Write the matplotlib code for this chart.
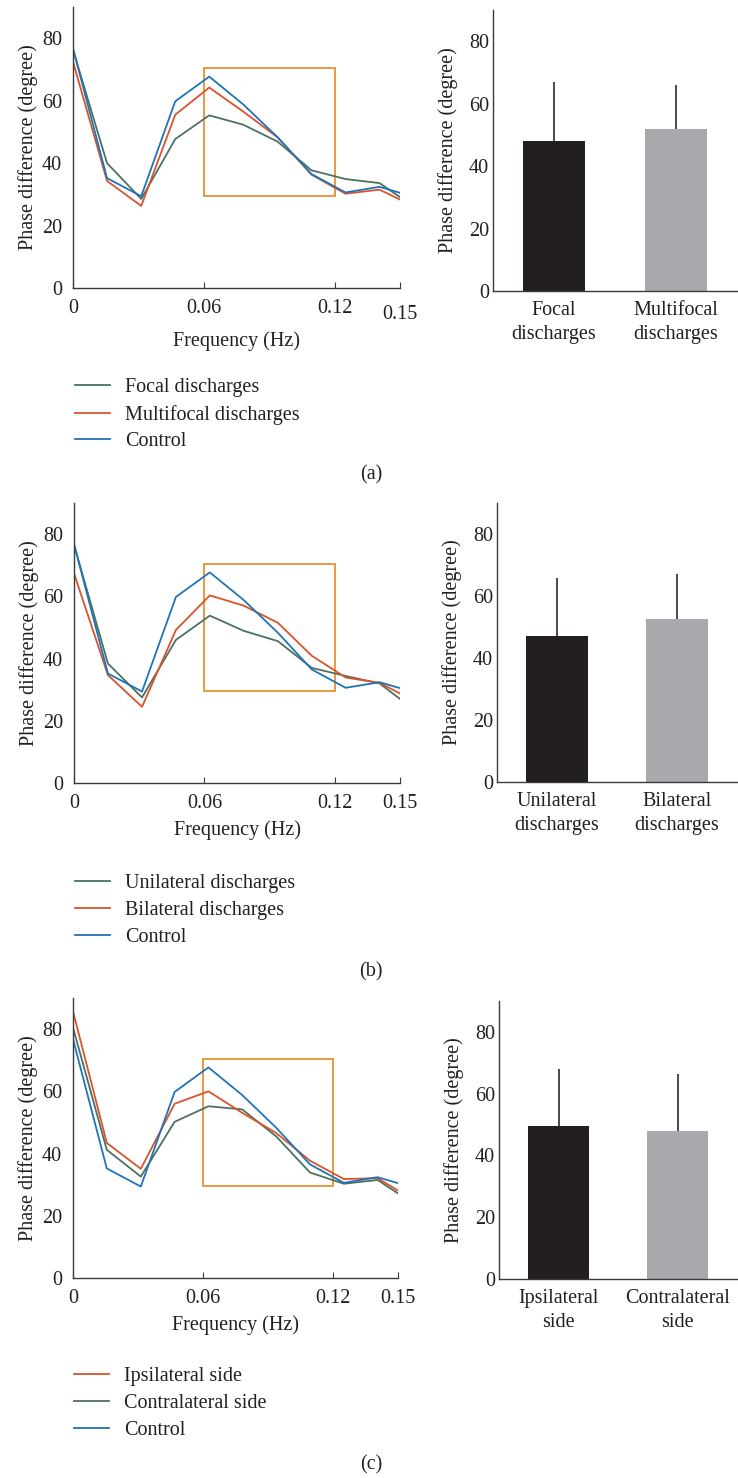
import numpy as np
import matplotlib
matplotlib.use("Agg")
import matplotlib.pyplot as plt
from matplotlib.patches import Rectangle
import matplotlib.transforms as mtransforms

plt.rcParams['font.family'] = ['Liberation Serif', 'DejaVu Serif']
plt.rcParams['font.size'] = 14.5
plt.rcParams['text.color'] = '#231f20'
plt.rcParams['xtick.color'] = '#231f20'
plt.rcParams['ytick.color'] = '#231f20'
plt.rcParams['axes.labelcolor'] = '#231f20'

W, H = 738, 1478

# frequency bins (Hz)
freq = [0.0, 0.0156, 0.0313, 0.0469, 0.0625, 0.0781, 0.0938, 0.1094, 0.125, 0.1406, 0.1563]

control = [76.8, 35.2, 29.4, 59.8, 67.7, 58.8, 48.3, 36.5, 30.6, 32.4, 29.2]

# (a)
focal = [76.3, 40.0, 28.5, 47.7, 55.3, 52.3, 46.9, 37.7, 34.9, 33.6, 26.1]
multifocal = [72.5, 34.3, 26.3, 55.5, 64.2, 56.5, 48.3, 36.3, 30.2, 31.5, 26.2]
# (b)
unilateral = [76.6, 38.4, 27.5, 46.0, 53.8, 48.9, 45.6, 37.0, 34.4, 32.0, 23.7]
bilateral = [67.4, 34.7, 24.5, 49.2, 60.3, 57.0, 51.5, 40.9, 33.9, 32.2, 26.5]
# (c)
ipsilateral = [85.7, 43.4, 35.1, 56.0, 60.0, 53.1, 46.6, 37.7, 31.8, 32.1, 25.4]
contralateral = [80.5, 41.2, 32.6, 50.2, 55.2, 54.2, 45.5, 33.9, 30.3, 31.5, 24.3]

# bar means and upper error
bar_labels_a = ['Focal\ndischarges', 'Multifocal\ndischarges']
bar_mean_a = [48.2, 52.0]
bar_err_a = [18.7, 14.0]
bar_labels_b = ['Unilateral\ndischarges', 'Bilateral\ndischarges']
bar_mean_b = [47.1, 52.6]
bar_err_b = [18.8, 14.5]
bar_labels_c = ['Ipsilateral\nside', 'Contralateral\nside']
bar_mean_c = [49.6, 47.9]
bar_err_c = [18.3, 18.4]

BLUE = '#1f73b9'
RED = '#d9532b'
GREEN = '#4b7260'
BOX = '#e8912f'
AXC = '#3a3a3a'


def px_axes(fig, left, top, right, bottom):
    return fig.add_axes([left / W, 1 - bottom / H, (right - left) / W, (bottom - top) / H])


def style(ax):
    for s in ['top', 'right']:
        ax.spines[s].set_visible(False)
    for s in ['left', 'bottom']:
        ax.spines[s].set_color(AXC)
        ax.spines[s].set_linewidth(1.0)


def line_panel(ax, series, shift015=False):
    style(ax)
    for y, c in series:
        ax.plot(freq, y, color=c, lw=1.3)
    ax.add_patch(Rectangle((0.06, 29.5), 0.06, 41.0, fill=False, ec=BOX, lw=1.3))
    ax.set_xlim(0, 0.15)
    ax.set_ylim(0, 90)
    ax.set_xticks([0, 0.06, 0.12, 0.15])
    ax.set_xticklabels(['0', '0.06', '0.12', '0.15'])
    ax.set_yticks([0, 20, 40, 60, 80])
    ax.tick_params(axis='x', direction='in', length=4, color=AXC, pad=8)
    ax.tick_params(axis='y', length=0, pad=8)
    ax.set_xlabel('Frequency (Hz)', labelpad=5)
    ax.set_ylabel('Phase difference (degree)', labelpad=3)
    if shift015:
        lab = ax.get_xticklabels()[-1]
        lab.set_transform(lab.get_transform() + mtransforms.ScaledTranslation(0, -6 / 100, ax.figure.dpi_scale_trans))


def bar_panel(ax, labels, means, errs):
    style(ax)
    x = np.arange(len(means))
    ax.bar(x, means, width=0.51, color=['#231f20', '#a7a9ac'])
    ax.errorbar(x, means, yerr=[np.zeros(len(errs)), errs], fmt='none',
                ecolor=AXC, elinewidth=1.3, capsize=0)
    ax.set_xlim(-0.5, 1.5)
    ax.set_ylim(0, 90)
    ax.set_xticks(x)
    ax.set_xticklabels(labels, linespacing=1.4)
    ax.set_yticks([0, 20, 40, 60, 80])
    ax.tick_params(axis='x', length=0, pad=7)
    ax.tick_params(axis='y', length=0, pad=3)
    ax.set_ylabel('Phase difference (degree)', labelpad=8)


def legend(fig, handles_spec, x, y):
    hs = [plt.Line2D([], [], color=c, lw=1.3) for _, c in handles_spec]
    fig.legend(hs, [l for l, _ in handles_spec], loc='upper left',
               bbox_to_anchor=(x / W, 1 - y / H), frameon=False, borderpad=0,
               borderaxespad=0, handlelength=1.75, handletextpad=0.75,
               labelspacing=0.38, fontsize=14.5)


fig = plt.figure(figsize=(W / 100, H / 100), dpi=100)

# (a)
ax = px_axes(fig, 73, 7, 400, 288)
line_panel(ax, [(focal, GREEN), (multifocal, RED), (control, BLUE)], shift015=True)
ax = px_axes(fig, 493, 10, 737, 291)
bar_panel(ax, bar_labels_a, bar_mean_a, bar_err_a)
legend(fig, [('Focal discharges', GREEN), ('Multifocal discharges', RED), ('Control', BLUE)], 75, 378)
fig.text(371 / W, 1 - 475 / H, '(a)', ha='center', va='center')

# (b)
ax = px_axes(fig, 74, 503, 400, 783)
line_panel(ax, [(unilateral, GREEN), (bilateral, RED), (control, BLUE)])
ax = px_axes(fig, 497, 503, 737, 782)
bar_panel(ax, bar_labels_b, bar_mean_b, bar_err_b)
legend(fig, [('Unilateral discharges', GREEN), ('Bilateral discharges', RED), ('Control', BLUE)], 75, 874)
fig.text(371 / W, 1 - 972 / H, '(b)', ha='center', va='center')

# (c)
ax = px_axes(fig, 73, 998, 398, 1278)
line_panel(ax, [(contralateral, GREEN), (ipsilateral, RED), (control, BLUE)])
ax = px_axes(fig, 499, 1001, 737, 1279)
bar_panel(ax, bar_labels_c, bar_mean_c, bar_err_c)
legend(fig, [('Ipsilateral side', RED), ('Contralateral side', GREEN), ('Control', BLUE)], 74, 1367)
fig.text(371 / W, 1 - 1465 / H, '(c)', ha='center', va='center')

fig.savefig('out.png', dpi=100)
